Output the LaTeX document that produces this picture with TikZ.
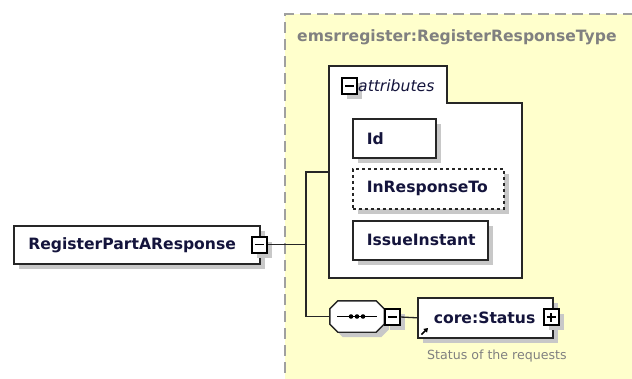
\documentclass[tikz,border=0pt]{standalone}
\usepackage{fontspec}
\setmainfont{DejaVu Sans}
\usetikzlibrary{shadows,arrows.meta}
\definecolor{bgyellow}{RGB}{255,255,204}
\definecolor{txtblue}{RGB}{20,20,60}
\definecolor{shadowgray}{RGB}{200,200,200}
\definecolor{titlegray}{RGB}{128,128,128}
\definecolor{framegray}{RGB}{160,160,160}
\begin{document}
\begin{tikzpicture}[x=1pt,y=-1pt,
  shd/.style={drop shadow={shadow xshift=5pt,shadow yshift=-5pt,fill=shadowgray,opacity=1}},
  elem/.style={draw=black!85, line width=1.6pt, fill=white, shd, text=txtblue,
    font=\bfseries\fontsize{15.6}{18}\selectfont, anchor=north west,
    inner xsep=14pt, inner ysep=0pt, align=left},
  conn/.style={draw=black!85, line width=1.3pt, line join=miter},
  iconbox/.style={draw=black, line width=2pt, fill=white, minimum width=15pt,
    minimum height=16pt, inner sep=0pt, shd},
  minusbox/.style={iconbox, path picture={\draw[line width=1.2pt]
    ([xshift=-4.5pt]path picture bounding box.center) -- ([xshift=4.5pt]path picture bounding box.center);}},
  plusbox/.style={iconbox, path picture={\draw[line width=1.2pt]
    ([xshift=-4.5pt]path picture bounding box.center) -- ([xshift=4.5pt]path picture bounding box.center)
    ([yshift=-4.5pt]path picture bounding box.center) -- ([yshift=4.5pt]path picture bounding box.center);}}
]
\useasboundingbox (0,0) rectangle (632,378);
% complex type frame
\fill[bgyellow] (285,14) rectangle (640,390);
\draw[framegray, line width=2pt, dash pattern=on 11pt off 6pt] (285,390) -- (285,14) -- (640,14);
\node[anchor=west, text=titlegray, font=\bfseries\fontsize{15.6}{18}\selectfont, inner sep=0pt]
  (title) at (297,37) {emsrregister:RegisterResponseType};

% root element
\node[elem, minimum width=246pt, minimum height=38pt, text width=217pt] (root) at (13,225) {RegisterPartAResponse};
\node[minusbox] (rootmin) at (259,244.5) {};

% junction coordinates
\coordinate (j) at (306,244.5);
\coordinate (jtop) at (306,172);
\coordinate (jbot) at (306,316.5);
\coordinate (attrL) at (329,172);

% attributes group
\draw[draw=black!85, line width=1.3pt, fill=white] (329,66) -- (447,66) -- (447,103) -- (522,103)
  -- (522,278) -- (329,278) -- cycle;
\node[minusbox, shd/.style={}] (attrmin) at (349.5,86) {};
\node[anchor=west, inner sep=0pt, text=txtblue, font=\itshape\fontsize{15.6}{18}\selectfont]
  (attrtxt) at (358,86) {attributes};

\node[elem, minimum width=83pt, minimum height=39pt, text width=55pt] (id) at (352,118) {Id};
\node[elem, dashed, minimum width=151pt, minimum height=40pt, text width=123pt] (irt) at (352,168) {InResponseTo};
\node[elem, minimum width=135pt, minimum height=39pt, text width=107pt] (ii) at (352,220) {IssueInstant};

% sequence compositor
\node[minimum width=54pt, minimum height=31pt, inner sep=0pt] (seq) at (357,316.5) {};
\draw[draw=black!85, line width=1.4pt, fill=white, shd]
  ([xshift=8pt]seq.north west) -- ([xshift=-8pt]seq.north east) -- ([yshift=-8pt]seq.north east)
  -- ([yshift=8pt]seq.south east) -- ([xshift=-8pt]seq.south east) -- ([xshift=8pt]seq.south west)
  -- ([yshift=8pt]seq.south west) -- ([yshift=-8pt]seq.north west) -- cycle;
\draw[line width=1.3pt] ([xshift=-20pt]seq.center) -- ([xshift=20pt]seq.center);
\fill ([xshift=-6pt]seq.center) circle (2.3pt) (seq.center) circle (2.3pt) ([xshift=6pt]seq.center) circle (2.3pt);
\node[minusbox] (seqmin) at (392,317) {};

% core:Status element
\node[elem, minimum width=135pt, minimum height=40pt, text width=103pt, inner xsep=16pt] (status) at (417,297) {core:Status};
\node[plusbox] (statplus) at (551,317) {};
\coordinate (arrA) at (421.5,334.5);
\coordinate (arrB) at (428,328);
\draw[line width=1.5pt, -{Triangle[length=4pt,width=5pt]}] (arrA) -- (arrB);
\node[anchor=west, inner sep=0pt, text=titlegray, font=\fontsize{12.6}{15}\selectfont]
  (statdesc) at (427,356) {Status of the requests};

% connectors
\draw[conn] (rootmin.east) -- (j);
\draw[conn] (attrL) -- (jtop) -- (jbot) -- (seq.west);
\draw[conn] (seqmin.east) -- (status.west);
\end{tikzpicture}
\end{document}
